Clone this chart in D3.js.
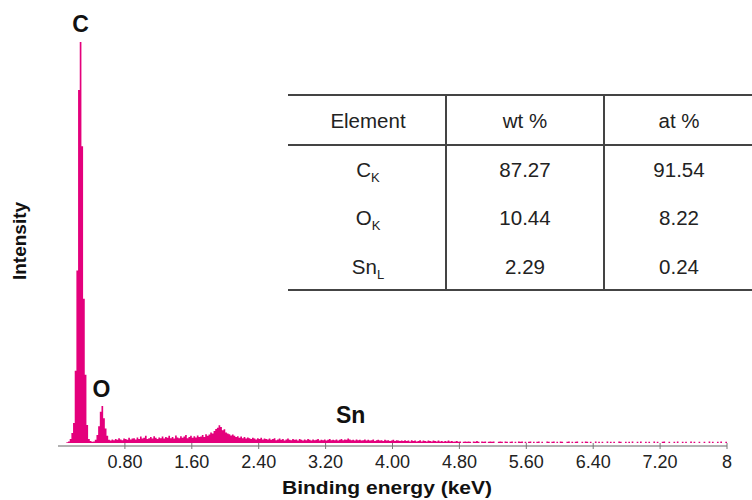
<!DOCTYPE html>
<html>
<head>
<meta charset="utf-8">
<script src="https://cdn.jsdelivr.net/npm/d3@7"></script>
<style>
  html, body { margin: 0; padding: 0; background: #fff; }
  svg { display: block; font-family: 'Liberation Sans', Arial, Helvetica, sans-serif; }
</style>
</head>
<body>
<div id="chart"></div>
<script>
// Spectrum: counts per 0.02 keV channel, first channel starts at 0.10 keV
var binStart = 0.10;
var binWidth = 0.02;
var counts = [
  2, 4, 10, 25, 50, 180, 430, 880, 1000, 740, 360, 170, 45, 10, 5, 3, 4, 8, 20, 42,
  78, 92, 62, 36, 18, 8, 6, 9, 7, 10, 8, 12, 9, 7, 11, 10, 8, 13, 9, 11,
  12, 9, 14, 10, 16, 11, 13, 18, 10, 12, 15, 11, 17, 13, 10, 14, 12, 16, 11, 15,
  13, 18, 12, 15, 11, 19, 14, 12, 17, 13, 16, 20, 12, 15, 18, 13, 17, 14, 19, 15,
  16, 20, 15, 22, 18, 21, 26, 24, 30, 35, 38, 44, 40, 32, 34, 26, 24, 22, 19, 21,
  18, 15, 17, 13, 16, 12, 15, 11, 14, 12, 10, 13, 11, 9, 12, 10, 13, 9, 11, 10,
  9, 11, 8, 10, 12, 7, 9, 11, 8, 10, 6, 9, 11, 8, 7, 10, 8, 9, 6, 10,
  8, 6, 9, 7, 10, 8, 6, 9, 7, 8, 10, 6, 8, 7, 9, 6, 8, 10, 7, 8,
  7, 9, 6, 8, 10, 7, 9, 8, 11, 9, 7, 8, 6, 9, 7, 8, 6, 7, 9, 6,
  8, 6, 7, 9, 5, 7, 8, 6, 7, 5, 8, 6, 7, 5, 6, 8, 5, 7, 6, 5,
  6, 5, 7, 5, 6, 4, 7, 5, 6, 4, 5, 7, 4, 6, 5, 4, 6, 5, 4, 6,
  5, 4, 6, 4, 5, 3, 5, 4, 6, 4, 5, 3, 4, 5, 3, 4, 0, 3, 4, 3,
  4, 3, 0, 4, 3, 5, 3, 0, 4, 3, 4, 0, 3, 4, 3, 4, 0, 0, 3, 4,
  3, 0, 4, 3, 0, 3, 4, 0, 3, 0, 4, 3, 4, 0, 3, 0, 3, 4, 0, 3,
  0, 3, 4, 0, 3, 0, 0, 4, 3, 0, 3, 4, 0, 3, 0, 4, 3, 0, 0, 3,
  4, 0, 3, 0, 3, 4, 0, 0, 3, 0, 4, 3, 0, 3, 0, 0, 4, 0, 3, 0,
  3, 0, 0, 4, 0, 3, 0, 3, 0, 0, 4, 3, 0, 0, 3, 0, 3, 0, 4, 0,
  0, 3, 0, 4, 0, 0, 3, 0, 3, 0, 0, 4, 0, 3, 0, 0, 3, 4, 0, 0,
  3, 0, 0, 3, 0, 4, 0, 0, 3, 0, 3, 0, 0, 4, 0, 3, 0, 0, 3, 0,
  0, 3, 0, 0, 4, 0, 3, 0, 0, 3, 0, 4, 0, 0, 3, 0
];

// Peak labels
var peakNames = ['C', 'O', 'Sn'];
var peakEnergies = [0.27, 0.52, 3.50];

// Axis ticks
var tickValues = [0.8, 1.6, 2.4, 3.2, 4.0, 4.8, 5.6, 6.4, 7.2, 8];
var tickLabels = ['0.80', '1.60', '2.40', '3.20', '4.00', '4.80', '5.60', '6.40', '7.20', '8'];

// Composition table
var tableHeaders = ['Element', 'wt %', 'at %'];
var elementSymbols = ['C', 'O', 'Sn'];
var elementLines = ['K', 'K', 'L'];
var wtPercent = ['87.27', '10.44', '2.29'];
var atPercent = ['91.54', '8.22', '0.24'];

var width = 752;
var height = 500;
var pink = '#e4007c';

var svg = d3.select('#chart')
            .append('svg')
            .attr('width', width)
            .attr('height', height);

// Scales
var x = d3.scaleLinear()
          .domain([0, 8])
          .range([58, 727]);
var y = d3.scaleLinear()
          .domain([0, 1000])
          .range([443, 42]);

var spectrum = counts.map(function (c, i) {
  return { e: binStart + i * binWidth, c: c };
});
spectrum.push({ e: binStart + counts.length * binWidth, c: 0 });

// Spectrum area
var area = d3.area()
             .x(function (d) { return x(d.e); })
             .y0(y(0))
             .y1(function (d) { return y(d.c); })
             .curve(d3.curveStepAfter);

svg.append('path')
   .datum(spectrum)
   .attr('fill', pink)
   .attr('d', area);

// X axis
var axis = svg.append('g')
              .attr('class', 'x-axis');
axis.append('line')
    .attr('x1', x(0))
    .attr('x2', x(8))
    .attr('y1', 446)
    .attr('y2', 446)
    .attr('stroke', '#999')
    .attr('stroke-width', 1.5);
axis.selectAll('.tick')
    .data(tickValues)
    .enter()
    .append('line')
    .attr('class', 'tick')
    .attr('x1', function (d) { return x(d); })
    .attr('x2', function (d) { return x(d); })
    .attr('y1', 443)
    .attr('y2', 449)
    .attr('stroke', '#777')
    .attr('stroke-width', 1);
axis.selectAll('.tick-label')
    .data(tickValues)
    .enter()
    .append('text')
    .attr('class', 'tick-label')
    .attr('x', function (d) { return x(d); })
    .attr('y', 468)
    .attr('text-anchor', 'middle')
    .attr('font-size', 18)
    .attr('fill', '#222')
    .text(function (d, i) { return tickLabels[i]; });

svg.append('text')
   .attr('x', 387)
   .attr('y', 494)
   .attr('text-anchor', 'middle')
   .attr('font-size', 19)
   .attr('font-weight', 'bold')
   .attr('fill', '#111')
   .attr('textLength', 210)
   .attr('lengthAdjust', 'spacingAndGlyphs')
   .text('Binding energy (keV)');

svg.append('text')
   .attr('transform', 'translate(26,241) rotate(-90)')
   .attr('text-anchor', 'middle')
   .attr('font-size', 19)
   .attr('font-weight', 'bold')
   .attr('fill', '#111')
   .text('Intensity');

// Peak labels
var labelY = [32, 397, 423];
svg.selectAll('.peak-label')
   .data(peakNames)
   .enter()
   .append('text')
   .attr('class', 'peak-label')
   .attr('x', function (d, i) { return x(peakEnergies[i]); })
   .attr('y', function (d, i) { return labelY[i]; })
   .attr('text-anchor', 'middle')
   .attr('font-size', 23)
   .attr('font-weight', 'bold')
   .attr('fill', '#111')
   .text(function (d) { return d; });

// Table
var table = svg.append('g')
               .attr('class', 'table');
var tableTop = 95;
var headerLine = 145;
var tableBottom = 290;
var colLines = [446, 604];
var colCenters = [368, 525, 679];
var rowBaselines = [177, 225, 274];
var lineColor = '#444';

[tableTop, headerLine, tableBottom].forEach(function (yy) {
  table.append('line')
       .attr('x1', 288)
       .attr('x2', width)
       .attr('y1', yy)
       .attr('y2', yy)
       .attr('stroke', lineColor)
       .attr('stroke-width', 2);
});
colLines.forEach(function (xx) {
  table.append('line')
       .attr('x1', xx)
       .attr('x2', xx)
       .attr('y1', tableTop)
       .attr('y2', tableBottom)
       .attr('stroke', lineColor)
       .attr('stroke-width', 2);
});

table.selectAll('.header')
     .data(tableHeaders)
     .enter()
     .append('text')
     .attr('class', 'header')
     .attr('x', function (d, i) { return colCenters[i]; })
     .attr('y', 128)
     .attr('text-anchor', 'middle')
     .attr('font-size', 20.5)
     .attr('fill', '#222')
     .text(function (d) { return d; });

elementSymbols.forEach(function (s, i) {
  var t = table.append('text')
               .attr('x', colCenters[0])
               .attr('y', rowBaselines[i])
               .attr('text-anchor', 'middle')
               .attr('font-size', 20.5)
               .attr('fill', '#222');
  t.append('tspan').text(s);
  t.append('tspan')
   .attr('font-size', 13)
   .attr('dy', 5)
   .text(elementLines[i]);

  table.append('text')
       .attr('x', colCenters[1])
       .attr('y', rowBaselines[i])
       .attr('text-anchor', 'middle')
       .attr('font-size', 20.5)
       .attr('fill', '#222')
       .text(wtPercent[i]);
  table.append('text')
       .attr('x', colCenters[2])
       .attr('y', rowBaselines[i])
       .attr('text-anchor', 'middle')
       .attr('font-size', 20.5)
       .attr('fill', '#222')
       .text(atPercent[i]);
});
</script>
</body>
</html>
